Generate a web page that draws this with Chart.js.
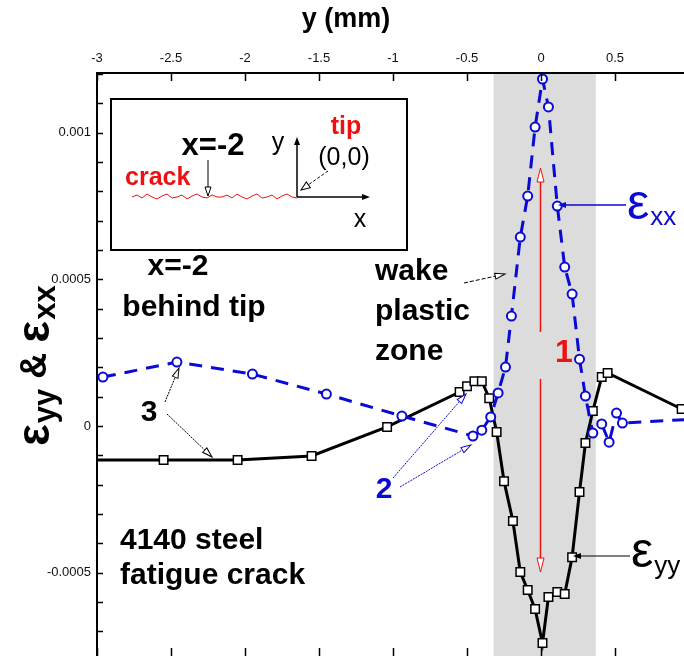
<!DOCTYPE html>
<html>
<head>
<meta charset="utf-8">
<script src="https://cdn.jsdelivr.net/npm/chart.js@4.4.0/dist/chart.umd.min.js"></script>
<style>
  html, body { margin: 0; padding: 0; background: #fff; overflow: hidden; }
  #wrap { width: 684px; height: 656px; }
</style>
</head>
<body>
<div id="wrap"><canvas id="strainChart" width="684" height="656"></canvas></div>
<script>
// strain profiles across the crack line
const exxPos = [-2.96, -2.46, -1.95, -1.45, -0.94, -0.46, -0.40, -0.34, -0.29, -0.24, -0.20, -0.14, -0.09, -0.04,
                0.01, 0.05, 0.11, 0.16, 0.21, 0.26, 0.30, 0.35, 0.41, 0.46, 0.51, 0.55, 1.05];
const exxVals = [0.000167, 0.000218, 0.000177, 0.000109, 0.000034, -0.000034, -0.000014, 0.000031, 0.000113, 0.000201,
                 0.000375, 0.000644, 0.000784, 0.001019, 0.001183, 0.001088, 0.00075, 0.000542, 0.00045, 0.000228,
                 0.000102, -0.000024, 0.000007, -0.000055, 0.000044, 0.00001, 0.000024];

const eyyPos = [-3.05, -2.55, -2.05, -1.55, -1.04, -0.55, -0.50, -0.45, -0.40, -0.35, -0.30, -0.25, -0.19, -0.14,
                -0.09, -0.04, 0.01, 0.05, 0.11, 0.16, 0.21, 0.26, 0.30, 0.35, 0.41, 0.45, 0.95];
const eyyVals = [-0.000116, -0.000116, -0.000116, -0.000102, -0.000003, 0.000116, 0.000136, 0.000153, 0.000153, 0.000095,
                 -0.00002, -0.000188, -0.000324, -0.000498, -0.000559, -0.000624, -0.00074, -0.000583, -0.000566,
                 -0.000573, -0.000447, -0.000225, -0.000058, 0.000051, 0.000167, 0.000181, 0.000058];

const xTickVals = [-3, -2.5, -2, -1.5, -1, -0.5, 0, 0.5];
const yTickVals = [-0.0005, 0, 0.0005, 0.001];
const yMinorStep = 0.0001;
const zoneFrom = -0.32;
const zoneTo = 0.37;

const BLUE = '#0a0ad2';
const RED = '#ee1111';

function arrowHead(ctx, x1, y1, x2, y2, len, wid, hollow, color) {
    const a = Math.atan2(y2 - y1, x2 - x1);
    ctx.save();
    ctx.setLineDash([]);
    ctx.translate(x2, y2);
    ctx.rotate(a);
    ctx.beginPath();
    ctx.moveTo(0, 0);
    ctx.lineTo(-len, -wid);
    ctx.lineTo(-len, wid);
    ctx.closePath();
    if (hollow) {
        ctx.fillStyle = '#fff';
        ctx.fill();
        ctx.lineWidth = 1;
        ctx.strokeStyle = color;
        ctx.stroke();
    } else {
        ctx.fillStyle = color;
        ctx.fill();
    }
    ctx.restore();
}

function arrow(ctx, x1, y1, x2, y2, opts) {
    const o = Object.assign({ color: '#000', width: 1, dash: [], len: 9, wid: 3, hollow: true }, opts);
    const a = Math.atan2(y2 - y1, x2 - x1);
    ctx.save();
    ctx.strokeStyle = o.color;
    ctx.lineWidth = o.width;
    ctx.setLineDash(o.dash);
    ctx.beginPath();
    ctx.moveTo(x1, y1);
    ctx.lineTo(x2 - Math.cos(a) * o.len * 0.8, y2 - Math.sin(a) * o.len * 0.8);
    ctx.stroke();
    ctx.restore();
    arrowHead(ctx, x1, y1, x2, y2, o.len, o.wid, o.hollow, o.color);
}

function txt(ctx, s, x, y, font, color, align) {
    ctx.font = font;
    ctx.fillStyle = color || '#000';
    ctx.textAlign = align || 'center';
    ctx.textBaseline = 'middle';
    ctx.fillText(s, x, y);
}

// epsilon with a subscript, drawn left to right from x
function epsLabel(ctx, sub, x, y, bigFont, subFont, color, subDrop) {
    ctx.font = bigFont;
    ctx.fillStyle = color;
    ctx.textAlign = 'left';
    ctx.textBaseline = 'middle';
    ctx.fillText('ε', x, y);
    const w = ctx.measureText('ε').width;
    ctx.font = subFont;
    ctx.fillText(sub, x + w + 1, y + subDrop);
    return w + 1 + ctx.measureText(sub).width;
}

function noPad(s) {
    s.paddingLeft = 0;
    s.paddingRight = 0;
    s.paddingTop = 0;
    s.paddingBottom = 0;
}

const decor = {
    id: 'decor',
    beforeDatasetsDraw(chart) {
        const { ctx, chartArea: ca, scales: { x } } = chart;
        ctx.save();
        ctx.fillStyle = '#dcdcdc';
        const a = x.getPixelForValue(zoneFrom), b = x.getPixelForValue(zoneTo);
        ctx.fillRect(a, ca.top, b - a, ca.bottom - ca.top);
        ctx.restore();
    },
    afterDatasetsDraw(chart) {
        const { ctx, chartArea: ca, scales: { x, y } } = chart;
        ctx.save();

        // axes frame + inward ticks
        ctx.strokeStyle = '#000';
        ctx.lineWidth = 2;
        ctx.beginPath();
        ctx.moveTo(ca.left, ca.bottom);
        ctx.lineTo(ca.left, ca.top);
        ctx.lineTo(ca.right, ca.top);
        ctx.stroke();
        ctx.lineWidth = 1.5;
        xTickVals.forEach(v => {
            const px = Math.round(x.getPixelForValue(v)) + 0.5;
            ctx.beginPath();
            ctx.moveTo(px, ca.top);
            ctx.lineTo(px, ca.top + 8);
            ctx.moveTo(px, ca.bottom);
            ctx.lineTo(px, ca.bottom - 8);
            ctx.stroke();
        });
        for (let k = -7; k <= 12; k++) {
            const py = Math.round(y.getPixelForValue(k * yMinorStep)) + 0.5;
            if (py < ca.top || py > ca.bottom) continue;
            ctx.beginPath();
            ctx.moveTo(ca.left, py);
            ctx.lineTo(ca.left + 6, py);
            ctx.stroke();
        }

        // axis titles
        txt(ctx, 'y (mm)', 346, 20, 'bold 27px Arial', '#000');
        ctx.save();
        ctx.translate(36, 446);
        ctx.rotate(-Math.PI / 2);
        let off = epsLabel(ctx, 'yy', 0, 0, 'bold 46px Arial', 'bold 31px Arial', '#000', 10);
        ctx.font = 'bold 36px Arial';
        ctx.textAlign = 'left';
        ctx.fillText(' & ', off, 0);
        off += ctx.measureText(' & ').width;
        epsLabel(ctx, 'xx', off, 0, 'bold 46px Arial', 'bold 31px Arial', '#000', 10);
        ctx.restore();

        // inset sketch
        ctx.lineWidth = 2;
        ctx.strokeStyle = '#000';
        ctx.strokeRect(111, 99, 296, 151);
        txt(ctx, 'x=-2', 213, 146, 'bold 31px Arial', '#000');
        arrow(ctx, 208, 160, 208, 196, { len: 9, wid: 3 });
        txt(ctx, 'crack', 125, 178, 'bold 25px Arial', RED, 'left');
        const jag = [0, -2, 1, -3, 0, 2, -1, -3, 1, 0, -2, 2, -1, -3, 0, 1, -2, 0];
        ctx.strokeStyle = RED;
        ctx.lineWidth = 1;
        ctx.beginPath();
        for (let i = 0, px = 132; px <= 297; i++, px += 5) {
            const py = 197 + jag[i % jag.length];
            if (i === 0) ctx.moveTo(px, py); else ctx.lineTo(px, py);
        }
        ctx.stroke();
        arrow(ctx, 297, 197, 297, 137, { width: 1.5, len: 8, wid: 3, hollow: false });
        arrow(ctx, 297, 197, 370, 197, { width: 1.5, len: 8, wid: 3, hollow: false });
        txt(ctx, 'y', 278, 143, '25px Arial', '#000');
        txt(ctx, 'x', 360, 220, '25px Arial', '#000');
        txt(ctx, 'tip', 346, 127, 'bold 25px Arial', RED);
        txt(ctx, '(0,0)', 344, 158, '25px Arial', '#000');
        arrow(ctx, 328, 171, 301, 190, { dash: [3, 2], len: 9, wid: 3.5 });

        // notes
        txt(ctx, 'x=-2', 178, 267, 'bold 30px Arial', '#000');
        txt(ctx, 'behind tip', 194, 308, 'bold 30px Arial', '#000');
        txt(ctx, 'wake', 375, 272, 'bold 30px Arial', '#000', 'left');
        txt(ctx, 'plastic', 375, 312, 'bold 30px Arial', '#000', 'left');
        txt(ctx, 'zone', 375, 352, 'bold 30px Arial', '#000', 'left');
        arrow(ctx, 464, 283, 505, 274, { dash: [4, 2], len: 10, wid: 3 });
        txt(ctx, '4140 steel', 120, 541, 'bold 30px Arial', '#000', 'left');
        txt(ctx, 'fatigue crack', 120, 576, 'bold 30px Arial', '#000', 'left');

        // 1: red span at the crack line
        const cx = Math.round(x.getPixelForValue(0)) - 0.5;
        arrow(ctx, cx, 332, cx, 168, { color: RED, width: 1.5, len: 14, wid: 3.5 });
        arrow(ctx, cx, 379, cx, 572, { color: RED, width: 1.5, len: 14, wid: 3.5 });
        txt(ctx, '1', 564, 353, 'bold 32px Arial', RED);

        // 2 and 3
        txt(ctx, '2', 384, 490, 'bold 30px Arial', BLUE);
        arrow(ctx, 393, 478, 466, 394, { color: BLUE, width: 1, dash: [2, 1], len: 10, wid: 3 });
        arrow(ctx, 400, 487, 471, 445, { color: BLUE, width: 1, dash: [2, 1], len: 10, wid: 3 });
        txt(ctx, '3', 149, 413, 'bold 30px Arial', '#000');
        arrow(ctx, 165, 402, 179, 368, { dash: [2, 1], len: 10, wid: 3 });
        arrow(ctx, 167, 414, 212, 457, { dash: [2, 1], len: 10, wid: 3 });

        // curve labels
        arrow(ctx, 626, 205, 558, 205, { color: BLUE, width: 1.5, len: 8, wid: 3, hollow: false });
        epsLabel(ctx, 'xx', 627, 205, '50px Arial', '26px Arial', BLUE, 13);
        arrow(ctx, 630, 556, 573, 556, { width: 1, len: 8, wid: 3, hollow: false });
        epsLabel(ctx, 'yy', 631, 553, '50px Arial', '26px Arial', '#000', 14);

        ctx.restore();
    }
};

const ctx = document.getElementById('strainChart').getContext('2d');
new Chart(ctx, {
    type: 'line',
    data: {
        datasets: [{
            label: 'εxx',
            data: exxPos.map((p, i) => ({ x: p, y: exxVals[i] })),
            borderColor: BLUE,
            borderWidth: 3,
            borderDash: [13, 9],
            tension: 0,
            pointStyle: 'circle',
            pointRadius: 4.5,
            pointBackgroundColor: '#fff',
            pointBorderColor: BLUE,
            pointBorderWidth: 2
        }, {
            label: 'εyy',
            data: eyyPos.map((p, i) => ({ x: p, y: eyyVals[i] })),
            borderColor: '#000',
            borderWidth: 3,
            tension: 0,
            pointStyle: 'rect',
            pointRadius: 6,
            pointBackgroundColor: '#fff',
            pointBorderColor: '#000',
            pointBorderWidth: 1.5
        }]
    },
    options: {
        responsive: false,
        animation: false,
        devicePixelRatio: 1,
        layout: { padding: 0, autoPadding: false },
        plugins: { legend: { display: false }, tooltip: { enabled: false } },
        scales: {
            x: {
                type: 'linear',
                position: 'top',
                min: -3,
                max: 0.966,
                afterFit(s) { s.height = 73; noPad(s); },
                afterBuildTicks(s) { s.ticks = xTickVals.map(v => ({ value: v })); },
                ticks: { font: { family: 'Arial', size: 13 }, color: '#111', padding: 7, maxRotation: 0, autoSkip: false,
                         callback: v => String(v) },
                grid: { display: false, drawTicks: false },
                border: { display: false }
            },
            y: {
                type: 'linear',
                min: -0.000784,
                max: 0.0012035,
                afterFit(s) { s.width = 97; noPad(s); },
                afterBuildTicks(s) { s.ticks = yTickVals.map(v => ({ value: v })); },
                ticks: { font: { family: 'Arial', size: 13 }, color: '#111', padding: 6, autoSkip: false,
                         callback: v => String(v) },
                grid: { display: false, drawTicks: false },
                border: { display: false }
            }
        }
    },
    plugins: [decor]
});
</script>
</body>
</html>
